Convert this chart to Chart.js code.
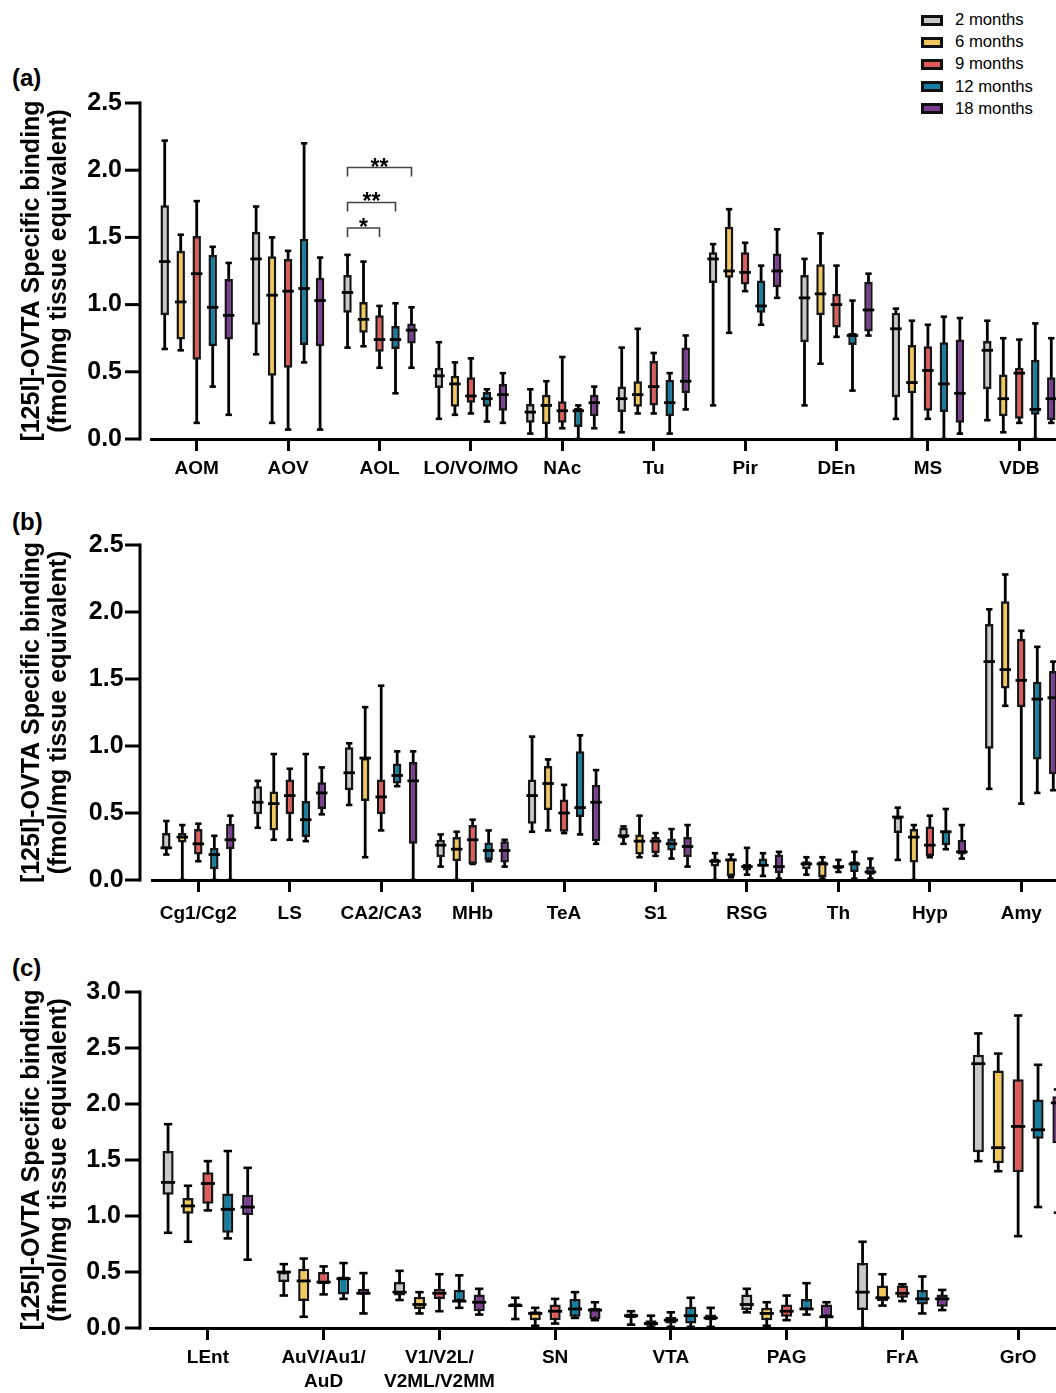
<!DOCTYPE html>
<html>
<head>
<meta charset="utf-8">
<script src="https://cdn.jsdelivr.net/npm/chart.js@4.4.1/dist/chart.umd.min.js"></script>
<style>
  body { margin: 0; width: 1056px; height: 1393px; overflow: hidden; background: #fff; position: relative;
         font-family: "Liberation Sans", Arial, sans-serif; }
  canvas { position: absolute; left: 0; }
  .tag { position: absolute; left: 12px; font-weight: bold; font-size: 24px; line-height: 28px; }
  #legend { position: absolute; left: 921px; top: 9px; font-size: 16.7px; }
  .row { height: 22.2px; display: flex; align-items: center; }
  .sw { width: 16px; height: 5px; border: 3px solid #111; margin-right: 12px; }
</style>
</head>
<body>
<div class="tag" style="top:64px">(a)</div>
<div class="tag" style="top:508px">(b)</div>
<div class="tag" style="top:954px">(c)</div>
<div id="legend"></div>
<canvas id="chartA" width="1080" height="495" style="top:0"></canvas>
<canvas id="chartB" width="1080" height="445" style="top:495px"></canvas>
<canvas id="chartC" width="1080" height="453" style="top:940px"></canvas>
<script>
// series names and colours
const seriesNames = ['2 months', '6 months', '9 months', '12 months', '18 months'];
const seriesColors = ['#C8C8C8', '#F3C85A', '#E25B5B', '#147FA0', '#7B3E93'];

// each entry: [min, q1, median, q3, max]
const regionsA = ['AOM', 'AOV', 'AOL', 'LO/VO/MO', 'NAc', 'Tu', 'Pir', 'DEn', 'MS', 'VDB'];
const a2m = [[0.67,0.92,1.32,1.74,2.22],[0.63,0.85,1.34,1.54,1.73],[0.68,0.94,1.09,1.22,1.37],[0.15,0.38,0.47,0.53,0.72],[0.04,0.12,0.20,0.26,0.37],
             [0.05,0.20,0.30,0.39,0.68],[0.25,1.16,1.34,1.39,1.45],[0.25,0.72,1.05,1.22,1.34],[0.15,0.31,0.82,0.94,0.97],[0.14,0.37,0.66,0.73,0.88]];
const a6m = [[0.66,0.74,1.02,1.40,1.52],[0.12,0.47,1.07,1.36,1.50],[0.69,0.79,0.89,1.02,1.32],[0.18,0.24,0.41,0.47,0.57],[0.00,0.11,0.25,0.33,0.43],
             [0.19,0.24,0.33,0.43,0.82],[0.79,1.20,1.25,1.58,1.71],[0.56,0.92,1.08,1.30,1.53],[0.00,0.34,0.42,0.70,0.88],[0.05,0.17,0.30,0.48,0.75]];
const a9m = [[0.12,0.59,1.23,1.51,1.77],[0.07,0.53,1.10,1.34,1.40],[0.53,0.65,0.74,0.92,0.99],[0.19,0.27,0.32,0.46,0.60],[0.08,0.12,0.21,0.28,0.61],
             [0.19,0.25,0.39,0.58,0.64],[1.10,1.15,1.24,1.39,1.46],[0.76,0.83,1.00,1.08,1.29],[0.15,0.21,0.51,0.69,0.85],[0.12,0.15,0.49,0.53,0.74]];
const a12m = [[0.39,0.69,0.98,1.37,1.43],[0.57,0.70,1.12,1.49,2.20],[0.34,0.67,0.74,0.84,1.01],[0.13,0.24,0.30,0.35,0.37],[0.00,0.09,0.21,0.23,0.25],
              [0.04,0.17,0.27,0.44,0.49],[0.85,0.94,0.99,1.18,1.29],[0.36,0.70,0.77,0.79,1.03],[0.00,0.20,0.41,0.72,0.91],[0.00,0.18,0.22,0.59,0.86]];
const a18m = [[0.18,0.74,0.92,1.19,1.31],[0.07,0.69,1.03,1.20,1.35],[0.53,0.71,0.81,0.86,0.98],[0.12,0.21,0.33,0.41,0.49],[0.08,0.17,0.27,0.33,0.39],
              [0.22,0.34,0.43,0.68,0.77],[1.05,1.13,1.25,1.38,1.56],[0.77,0.80,0.96,1.17,1.23],[0.04,0.12,0.34,0.74,0.90],[0.12,0.14,0.30,0.46,0.75]];
// significance brackets in panel (a): category index, from series, to series, height, label
const bracketsA = [[2, 0, 2, 1.57, '*'], [2, 0, 3, 1.76, '**'], [2, 0, 4, 2.02, '**']];

const regionsB = ['Cg1/Cg2', 'LS', 'CA2/CA3', 'MHb', 'TeA', 'S1', 'RSG', 'Th', 'Hyp', 'Amy'];
const b2m = [[0.19,0.23,0.24,0.35,0.44],[0.39,0.49,0.58,0.70,0.74],[0.56,0.67,0.80,0.99,1.02],[0.10,0.17,0.26,0.30,0.34],[0.36,0.42,0.63,0.75,1.07],
             [0.27,0.31,0.33,0.39,0.40],[0.00,0.10,0.14,0.16,0.20],[0.04,0.08,0.12,0.14,0.17],[0.15,0.35,0.47,0.47,0.54],[0.68,0.98,1.63,1.91,2.02]];
const b6m = [[0.00,0.28,0.32,0.35,0.41],[0.30,0.37,0.57,0.66,0.94],[0.17,0.59,0.91,0.91,1.29],[0.00,0.14,0.23,0.32,0.36],[0.37,0.52,0.72,0.85,0.90],
             [0.17,0.19,0.29,0.34,0.48],[0.02,0.03,0.15,0.16,0.19],[0.01,0.02,0.12,0.14,0.17],[0.00,0.13,0.32,0.38,0.41],[1.30,1.43,1.57,2.08,2.28]];
const b9m = [[0.14,0.19,0.27,0.38,0.42],[0.30,0.49,0.63,0.75,0.83],[0.37,0.49,0.62,0.75,1.45],[0.12,0.12,0.30,0.41,0.45],[0.35,0.36,0.50,0.60,0.71],
             [0.18,0.20,0.29,0.32,0.35],[0.04,0.07,0.10,0.12,0.24],[0.06,0.08,0.10,0.10,0.15],[0.17,0.18,0.26,0.40,0.48],[0.57,1.29,1.49,1.80,1.86]];
const b12m = [[0.00,0.08,0.19,0.24,0.33],[0.29,0.32,0.45,0.59,0.94],[0.70,0.72,0.78,0.87,0.96],[0.14,0.15,0.22,0.28,0.37],[0.34,0.47,0.54,0.96,1.08],
              [0.16,0.22,0.27,0.31,0.38],[0.03,0.10,0.11,0.16,0.20],[0.01,0.06,0.12,0.14,0.21],[0.23,0.26,0.36,0.37,0.53],[0.65,0.90,1.35,1.48,1.74]];
const b18m = [[0.00,0.23,0.30,0.42,0.48],[0.49,0.53,0.65,0.73,0.84],[0.00,0.27,0.74,0.88,0.96],[0.10,0.13,0.22,0.29,0.30],[0.27,0.29,0.58,0.71,0.82],
              [0.10,0.17,0.25,0.32,0.41],[0.01,0.05,0.10,0.19,0.21],[0.01,0.04,0.06,0.10,0.16],[0.16,0.19,0.21,0.30,0.41],[0.67,0.79,1.36,1.56,1.63]];

const regionsC = ['LEnt', ['AuV/Au1/', 'AuD'], ['V1/V2L/', 'V2ML/V2MM'], 'SN', 'VTA', 'PAG', 'FrA', 'GrO'];
const c2m = [[0.85,1.19,1.30,1.58,1.82],[0.29,0.41,0.50,0.50,0.57],[0.25,0.29,0.32,0.41,0.51],[0.08,0.19,0.20,0.22,0.27],
             [0.03,0.09,0.11,0.13,0.15],[0.14,0.16,0.21,0.30,0.35],[0.00,0.16,0.32,0.58,0.77],[1.49,1.57,2.36,2.44,2.63]];
const c6m = [[0.77,1.02,1.09,1.16,1.27],[0.10,0.24,0.42,0.53,0.62],[0.13,0.17,0.21,0.28,0.32],[0.02,0.07,0.13,0.15,0.18],
             [0.01,0.02,0.04,0.07,0.11],[0.02,0.07,0.13,0.18,0.23],[0.20,0.24,0.27,0.38,0.48],[1.40,1.47,1.61,2.30,2.45]];
const c9m = [[1.05,1.11,1.29,1.39,1.49],[0.30,0.39,0.41,0.50,0.55],[0.15,0.26,0.31,0.35,0.48],[0.04,0.07,0.15,0.21,0.26],
             [0.01,0.04,0.07,0.10,0.14],[0.07,0.10,0.15,0.21,0.29],[0.24,0.27,0.31,0.38,0.39],[0.82,1.39,1.80,2.22,2.79]];
const c12m = [[0.80,0.85,1.06,1.20,1.58],[0.26,0.30,0.44,0.46,0.58],[0.18,0.24,0.24,0.34,0.47],[0.09,0.10,0.17,0.26,0.32],
              [0.01,0.04,0.11,0.19,0.27],[0.12,0.16,0.17,0.26,0.40],[0.13,0.21,0.26,0.34,0.46],[1.08,1.69,1.77,2.04,2.35]];
const c18m = [[0.61,1.01,1.08,1.19,1.43],[0.13,0.30,0.31,0.35,0.49],[0.12,0.15,0.23,0.30,0.35],[0.07,0.08,0.16,0.18,0.23],
              [0.01,0.07,0.09,0.12,0.18],[0.00,0.10,0.10,0.21,0.23],[0.16,0.19,0.26,0.30,0.34],[1.03,1.65,2.01,2.07,2.13]];

const yTitle = ['[125I]-OVTA Specific binding', '(fmol/mg tissue equivalent)'];
const fontFam = '"Liberation Sans", Arial, sans-serif';

// whiskers, medians, brackets and the detached y axis
const boxPlot = {
  id: 'boxPlot',
  beforeDatasetsDraw(chart) {
    const ctx = chart.ctx, y = chart.scales.y;
    chart.data.datasets.forEach((ds, i) => {
      chart.getDatasetMeta(i).data.forEach((bar, j) => {
        const s = ds.stats[j];
        const cap = bar.width * 0.75;
        ctx.save();
        ctx.strokeStyle = '#000';
        ctx.lineWidth = 2.8;
        ctx.beginPath();
        ctx.moveTo(bar.x, y.getPixelForValue(s[0]));
        ctx.lineTo(bar.x, y.getPixelForValue(s[4]));
        ctx.stroke();
        ctx.lineWidth = 2.6;
        for (const v of [s[0], s[4]]) {
          const py = y.getPixelForValue(v);
          ctx.beginPath();
          ctx.moveTo(bar.x - cap / 2, py);
          ctx.lineTo(bar.x + cap / 2, py);
          ctx.stroke();
        }
        ctx.restore();
      });
    });
  },
  afterDatasetsDraw(chart, args, opts) {
    const ctx = chart.ctx, y = chart.scales.y;
    ctx.save();
    ctx.strokeStyle = '#000';
    ctx.lineWidth = 2.8;
    chart.data.datasets.forEach((ds, i) => {
      chart.getDatasetMeta(i).data.forEach((bar, j) => {
        const py = y.getPixelForValue(ds.stats[j][2]);
        ctx.beginPath();
        ctx.moveTo(bar.x - bar.width / 2 - 1.5, py);
        ctx.lineTo(bar.x + bar.width / 2 + 1.5, py);
        ctx.stroke();
      });
    });
    // significance brackets
    (opts.brackets || []).forEach(([cat, from, to, h, label]) => {
      const x1 = chart.getDatasetMeta(from).data[cat].x;
      const x2 = chart.getDatasetMeta(to).data[cat].x;
      const py = y.getPixelForValue(h);
      ctx.strokeStyle = '#444';
      ctx.lineWidth = 1.6;
      ctx.beginPath();
      ctx.moveTo(x1, py + 9);
      ctx.lineTo(x1, py);
      ctx.lineTo(x2, py);
      ctx.lineTo(x2, py + 9);
      ctx.stroke();
      ctx.fillStyle = '#000';
      ctx.font = 'bold 23px ' + fontFam;
      ctx.textAlign = 'center';
      ctx.textBaseline = 'alphabetic';
      ctx.fillText(label, (x1 + x2) / 2, py + 7);
    });
    ctx.restore();
  },
  afterDraw(chart, args, opts) {
    const ctx = chart.ctx, y = chart.scales.y;
    const ax = opts.axisX;
    const top = y.getPixelForValue(y.max), bottom = y.getPixelForValue(0);
    ctx.save();
    ctx.strokeStyle = '#000';
    ctx.lineWidth = 3;
    ctx.beginPath();
    ctx.moveTo(ax, top - 1.5);
    ctx.lineTo(ax, bottom + 1.5);
    ctx.stroke();
    y.ticks.forEach(t => {
      const py = y.getPixelForValue(t.value);
      ctx.beginPath();
      ctx.moveTo(ax - 15, py);
      ctx.lineTo(ax, py);
      ctx.stroke();
    });
    ctx.restore();
  }
};

function makeChart(id, labels, series, yMax, lay, brackets) {
  return new Chart(document.getElementById(id), {
    type: 'bar',
    data: {
      labels: labels,
      datasets: series.map((s, i) => ({
        label: seriesNames[i],
        data: s.map(v => [v[1], v[3]]),
        stats: s,
        backgroundColor: seriesColors[i],
        borderColor: '#151515',
        borderWidth: 2.5,
        borderSkipped: false,
        categoryPercentage: lay.cp,
        barPercentage: lay.bp
      }))
    },
    options: {
      responsive: false,
      animation: false,
      layout: { padding: { left: 0, top: lay.top, right: lay.right, bottom: 0 } },
      plugins: {
        legend: { display: false },
        tooltip: { enabled: false },
        boxPlot: { axisX: 140, brackets: brackets }
      },
      scales: {
        x: {
          grid: { display: true, drawOnChartArea: false, drawTicks: true, tickLength: 12, lineWidth: 3, color: '#000', offset: false },
          border: { display: true, width: 3, color: '#000' },
          ticks: { color: '#000', font: { family: fontFam, size: 19, weight: 'bold', lineHeight: 1.3 }, padding: lay.lp, maxRotation: 0, autoSkip: false },
          afterFit(s) { s.height = lay.xh; }
        },
        y: {
          min: 0,
          max: yMax,
          ticks: { stepSize: 0.5, callback: v => v.toFixed(1), color: '#000', font: { family: fontFam, size: 25, weight: 'bold' }, padding: 29 },
          grid: { display: false, drawTicks: false },
          border: { display: false },
          title: { display: true, text: yTitle, color: '#000', font: { family: fontFam, size: 25, weight: 'bold', lineHeight: 1.08 }, padding: { top: 19, bottom: 0 } },
          afterFit(s) { s.width = lay.left; }
        }
      }
    },
    plugins: [boxPlot]
  });
}

makeChart('chartA', regionsA, [a2m, a6m, a9m, a12m, a18m], 2.5,
  { top: 103, xh: 56, left: 151, right: 15, cp: 0.875, bp: 0.53, lp: 5 }, bracketsA);
makeChart('chartB', regionsB, [b2m, b6m, b9m, b12m, b18m], 2.5,
  { top: 50, xh: 60, left: 152.6, right: 13, cp: 0.875, bp: 0.53, lp: 9 }, []);
makeChart('chartC', regionsC, [c2m, c6m, c9m, c12m, c18m], 3.0,
  { top: 52, xh: 65, left: 150, right: 4, cp: 0.86, bp: 0.56, lp: 5 }, []);

// legend
const legend = document.getElementById('legend');
seriesNames.forEach((name, i) => {
  const row = document.createElement('div');
  row.className = 'row';
  const sw = document.createElement('span');
  sw.className = 'sw';
  sw.style.background = seriesColors[i];
  row.appendChild(sw);
  row.appendChild(document.createTextNode(name));
  legend.appendChild(row);
});
</script>
</body>
</html>
